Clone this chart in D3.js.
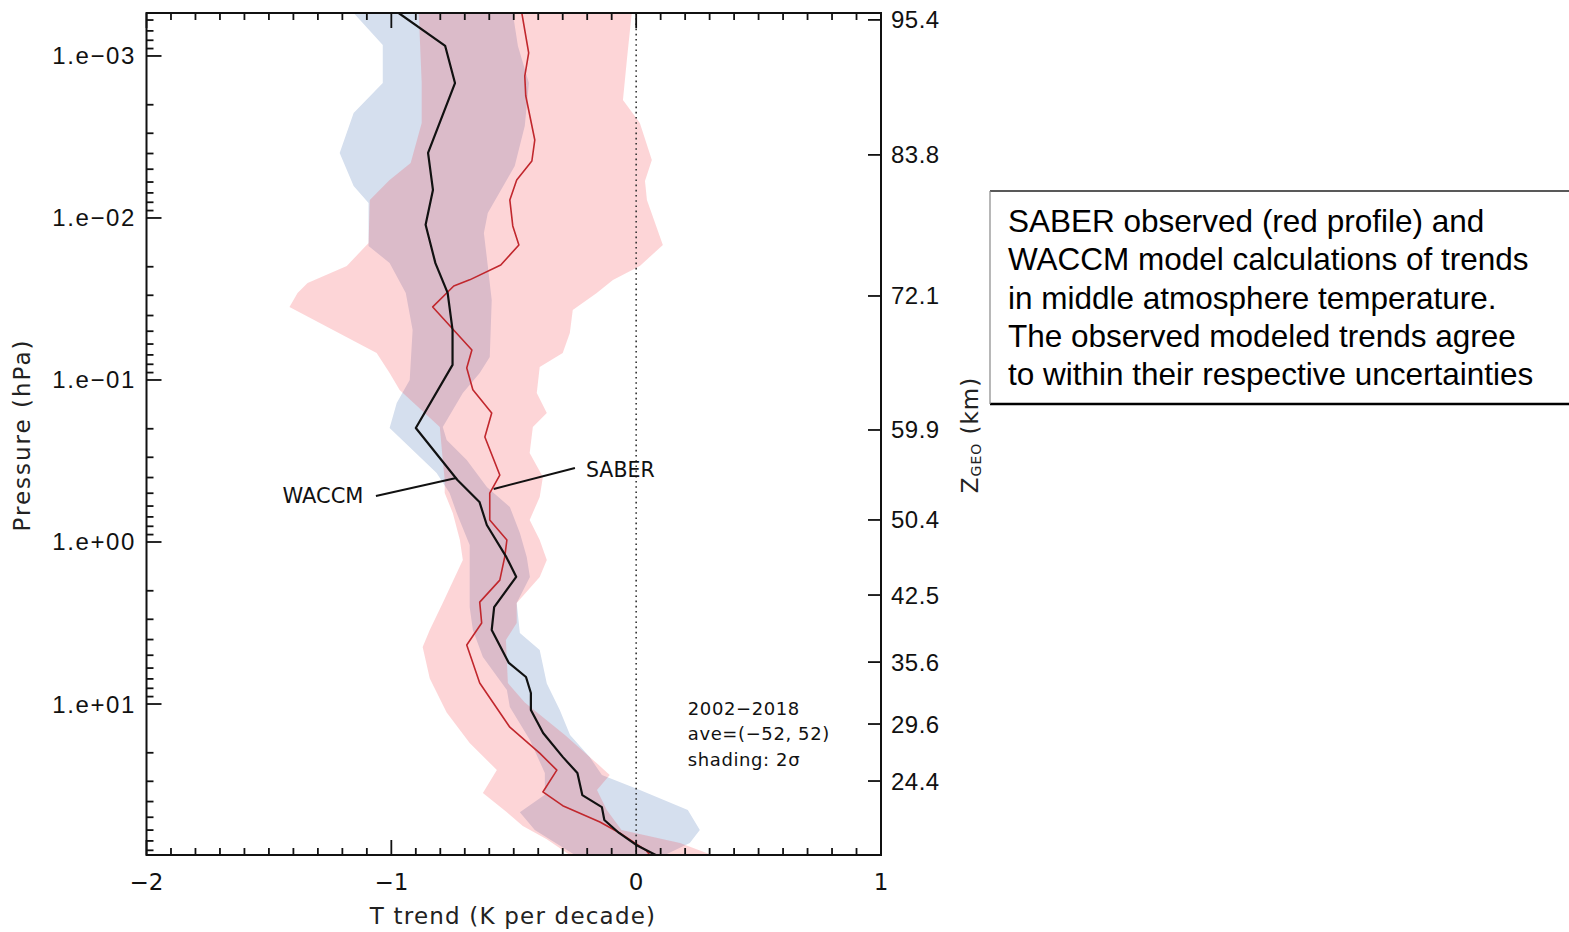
<!DOCTYPE html>
<html><head><meta charset="utf-8">
<script src="https://cdn.jsdelivr.net/npm/d3@7"></script>
<style>body{margin:0;background:#fff;} svg{display:block;}</style>
</head><body>
<svg id="chart" width="1569" height="932"></svg>
<script>
// ---------------- DATA ----------------
// Axis extents (hPa) and x range (K per decade)
const pTop = 5.43e-4, pBottom = 85.5;
const tDomain = [-2, 1];
const xTickMajor = [-2, -1, 0, 1];
const xTickLabels = ["\u22122", "\u22121", "0", "1"];
const pDecades = [1e-3, 1e-2, 1e-1, 1e0, 1e1];
const pDecadeLabels = ["1.e\u221203", "1.e\u221202", "1.e\u221201", "1.e+00", "1.e+01"];
// right axis: geometric altitude labels and their pressure levels
const zLabels = ["95.4", "83.8", "72.1", "59.9", "50.4", "42.5", "35.6", "29.6", "24.4"];
const zPressures = [5.99e-4, 4.08e-3, 0.0303, 0.2035, 0.731, 2.125, 5.51, 13.29, 29.88];

// WACCM mean trend profile
const waccmP = [5.43e-4, 8.67e-4, 1.47e-3, 3.97e-3, 6.71e-3, 0.0110, 0.0190, 0.0290, 0.0491, 0.0807, 0.198, 0.414, 0.566, 0.785, 1.24, 1.64, 2.52, 3.49, 5.58, 6.81, 8.55, 10.9, 15.1, 21.2, 26.7, 36.5, 43.3, 52.0, 62.5, 74.1, 85.5];
const waccmT = [-0.97, -0.78, -0.74, -0.85, -0.83, -0.86, -0.82, -0.77, -0.75, -0.75, -0.90, -0.73, -0.64, -0.61, -0.53, -0.49, -0.58, -0.59, -0.52, -0.45, -0.43, -0.43, -0.38, -0.30, -0.24, -0.22, -0.14, -0.13, -0.07, 0.00, 0.08];

// SABER mean trend profile
const saberP = [5.43e-4, 9.58e-4, 1.33e-3, 1.76e-3, 3.30e-3, 4.45e-3, 5.82e-3, 7.74e-3, 0.0112, 0.0147, 0.0195, 0.0241, 0.0263, 0.0354, 0.0653, 0.0843, 0.115, 0.160, 0.225, 0.386, 0.499, 0.731, 0.972, 1.24, 1.72, 2.35, 3.16, 4.32, 7.42, 13.9, 20.1, 25.6, 34.9, 42.4, 53.5, 62.5, 80.0, 85.5];
const saberT = [-0.467, -0.439, -0.455, -0.451, -0.414, -0.426, -0.488, -0.516, -0.504, -0.479, -0.553, -0.680, -0.745, -0.831, -0.671, -0.692, -0.667, -0.590, -0.618, -0.557, -0.598, -0.598, -0.528, -0.537, -0.557, -0.639, -0.631, -0.692, -0.639, -0.516, -0.394, -0.324, -0.381, -0.300, -0.148, -0.067, 0.040, 0.056];

// WACCM 2-sigma band edges
const waccmLoP = [5.43e-4, 8.55e-4, 1.468e-3, 2.248e-3, 3.97e-3, 6.34e-3, 8.08e-3, 0.01489, 0.01896, 0.02904, 0.04913, 0.1000, 0.1387, 0.1978, 0.2704, 0.3750, 0.4983, 0.6622, 1.043, 2.518, 3.493, 5.128, 8.197, 10.43, 16.68, 26.67, 36.3, 46.6, 59.95, 85.5];
const waccmLoT = [-1.154, -1.035, -1.035, -1.154, -1.211, -1.154, -1.093, -1.093, -1.007, -0.941, -0.913, -0.925, -0.978, -1.007, -0.913, -0.815, -0.762, -0.733, -0.680, -0.680, -0.667, -0.626, -0.528, -0.516, -0.434, -0.373, -0.373, -0.475, -0.414, -0.250];
const waccmHiP = [5.43e-4, 8.68e-4, 1.468e-3, 2.704e-3, 4.775e-3, 9.31e-3, 0.01238, 0.01978, 0.03208, 0.07211, 0.09054, 0.1203, 0.1950, 0.2346, 0.3118, 0.4575, 0.6081, 0.8800, 1.238, 1.644, 2.379, 3.646, 4.642, 7.46, 10.89, 15.54, 21.25, 27.44, 33.96, 45.11, 59.95, 72.11, 85.5];
const waccmHiT = [-0.504, -0.483, -0.438, -0.455, -0.496, -0.606, -0.622, -0.606, -0.590, -0.598, -0.639, -0.708, -0.790, -0.774, -0.692, -0.610, -0.516, -0.475, -0.447, -0.434, -0.488, -0.475, -0.394, -0.365, -0.312, -0.270, -0.190, -0.140, 0.015, 0.211, 0.260, 0.219, 0.117];

// SABER 2-sigma band edges
const saberLoP = [5.43e-4, 1.468e-3, 2.593e-3, 4.575e-3, 5.826e-3, 7.743e-3, 0.01427, 0.01978, 0.02518, 0.02904, 0.03543, 0.06813, 0.09054, 0.1153, 0.1950, 0.3118, 0.4144, 0.4983, 0.6622, 0.9720, 1.292, 2.379, 3.493, 4.448, 6.95, 11.3, 17.4, 25.55, 35.43, 46.6, 56.6, 68.3, 85.5];
const saberLoT = [-0.888, -0.876, -0.876, -0.921, -1.007, -1.088, -1.093, -1.182, -1.342, -1.383, -1.416, -1.060, -1.007, -0.966, -0.802, -0.790, -0.782, -0.782, -0.749, -0.720, -0.708, -0.790, -0.843, -0.872, -0.843, -0.774, -0.680, -0.569, -0.626, -0.528, -0.463, -0.365, -0.271];
const saberHiP = [5.43e-4, 1.058e-3, 1.869e-3, 2.593e-3, 4.385e-3, 5.909e-3, 7.743e-3, 0.01468, 0.01978, 0.02413, 0.02904, 0.03697, 0.05128, 0.06813, 0.08316, 0.1203, 0.1598, 0.1950, 0.2822, 0.3971, 0.5275, 0.7314, 0.9720, 1.292, 1.644, 2.379, 3.162, 4.026, 7.42, 9.79, 15.54, 22.6, 27.4, 33.96, 45.11, 59.95, 72.11, 85.5];
const saberHiT = [-0.018, -0.038, -0.054, 0.015, 0.064, 0.036, 0.044, 0.109, 0.015, -0.095, -0.161, -0.259, -0.271, -0.300, -0.394, -0.406, -0.365, -0.422, -0.435, -0.381, -0.394, -0.435, -0.394, -0.365, -0.394, -0.488, -0.488, -0.532, -0.524, -0.455, -0.291, -0.169, -0.108, -0.160, -0.120, -0.060, 0.179, 0.309];

// annotations (data coordinates: T, p)
const waccmLabel = {text: "WACCM", t: -1.445, p: 0.52};
const waccmLeader = [{t: -1.063, p: 0.52}, {t: -0.735, p: 0.403}];
const saberLabel = {text: "SABER", t: -0.205, p: 0.36};
const saberLeader = [{t: -0.25, p: 0.349}, {t: -0.582, p: 0.471}];
const infoLines = ["2002\u22122018", "ave=(\u221252, 52)", "shading: 2\u03c3"];
const infoPos = {t: 0.211, p: [10.6, 15.1, 21.9]};
const boxLines = [
  "SABER observed (red profile) and",
  "WACCM model calculations of trends",
  "in middle atmosphere temperature.",
  "The observed modeled trends agree",
  "to within their respective uncertainties"
];

// ---------------- DRAW ----------------
const svg = d3.select("#chart");
const plot = {left: 146.5, right: 881, top: 13, bottom: 855};
const x = d3.scaleLinear().domain(tDomain).range([plot.left, plot.right]);
const y = d3.scaleLog().domain([pTop, pBottom]).range([plot.top, plot.bottom]);

svg.append("rect").attr("width", 1569).attr("height", 932).attr("fill", "#fff");

svg.append("defs").append("clipPath").attr("id", "clip")
  .append("rect").attr("x", plot.left).attr("y", plot.top)
  .attr("width", plot.right - plot.left).attr("height", plot.bottom - plot.top);

const g = svg.append("g").attr("clip-path", "url(#clip)");
const zip = (P, T) => P.map((p, i) => ({p, t: T[i]}));
const line = d3.line().x(d => x(d.t)).y(d => y(d.p));

function band(loP, loT, hiP, hiT) {
  const pts = zip(loP, loT).concat(zip(hiP, hiT).reverse());
  return line(pts) + "Z";
}

g.append("path").attr("d", band(waccmLoP, waccmLoT, waccmHiP, waccmHiT))
  .attr("fill", "#d5dfee");
g.append("path").attr("d", band(saberLoP, saberLoT, saberHiP, saberHiT))
  .attr("fill", "rgb(245,45,55)").attr("fill-opacity", 0.2);

// zero line
g.append("line").attr("x1", x(0)).attr("x2", x(0))
  .attr("y1", plot.top).attr("y2", plot.bottom)
  .attr("stroke", "#333").attr("stroke-width", 1.6).attr("stroke-dasharray", "1.6,3.6");

g.append("path").attr("d", line(zip(saberP, saberT)))
  .attr("fill", "none").attr("stroke", "#c1272d").attr("stroke-width", 1.6).attr("stroke-linejoin", "round");
g.append("path").attr("d", line(zip(waccmP, waccmT)))
  .attr("fill", "none").attr("stroke", "#111").attr("stroke-width", 2.2).attr("stroke-linejoin", "round");

// frame
svg.append("rect").attr("x", plot.left).attr("y", plot.top)
  .attr("width", plot.right - plot.left).attr("height", plot.bottom - plot.top)
  .attr("fill", "none").attr("stroke", "#111").attr("stroke-width", 2);

// x ticks (top and bottom)
const axG = svg.append("g").attr("stroke", "#111").attr("stroke-width", 1.8);
const xMinor = d3.range(-20, 11).map(v => v / 10);
xMinor.forEach(v => {
  const major = Math.abs(v - Math.round(v)) < 1e-9;
  const len = major ? 15 : 7;
  axG.append("line").attr("x1", x(v)).attr("x2", x(v)).attr("y1", plot.top).attr("y2", plot.top + len);
  axG.append("line").attr("x1", x(v)).attr("x2", x(v)).attr("y1", plot.bottom).attr("y2", plot.bottom - len);
});
// y ticks left (log)
pDecades.concat([1e-4, 100]).forEach(d => {
  for (let m = 1; m <= 9; m++) {
    const p = d * m;
    if (p < pTop || p > pBottom) continue;
    const len = m === 1 ? 15 : 7;
    axG.append("line").attr("x1", plot.left).attr("x2", plot.left + len).attr("y1", y(p)).attr("y2", y(p));
  }
});
// right axis ticks
zPressures.forEach(p => {
  axG.append("line").attr("x1", plot.right).attr("x2", plot.right - 13).attr("y1", y(p)).attr("y2", y(p));
});

// tick labels
const tl = svg.append("g").attr("fill", "#111");
xTickMajor.forEach((v, i) => {
  tl.append("text").attr("x", x(v)).attr("y", 882).attr("text-anchor", "middle")
    .attr("dominant-baseline", "central").attr("font-family", "DejaVu Sans").attr("font-size", 23)
    .text(xTickLabels[i]);
});
pDecades.forEach((p, i) => {
  tl.append("text").attr("x", 136).attr("y", y(p)).attr("text-anchor", "end")
    .attr("dominant-baseline", "central").attr("font-family", "Liberation Sans").attr("font-size", 24)
    .attr("letter-spacing", 1.6).text(pDecadeLabels[i]);
});
zPressures.forEach((p, i) => {
  tl.append("text").attr("x", 891).attr("y", y(p)).attr("text-anchor", "start")
    .attr("dominant-baseline", "central").attr("font-family", "Liberation Sans").attr("font-size", 24)
    .attr("letter-spacing", 0.5).text(zLabels[i]);
});

// axis titles
tl.append("text").attr("x", 513).attr("y", 916).attr("text-anchor", "middle")
  .attr("dominant-baseline", "central").attr("font-family", "DejaVu Sans").attr("font-size", 23)
  .attr("letter-spacing", 1.2).attr("fill", "#222").text("T trend (K per decade)");
tl.append("text").attr("transform", "translate(22,435) rotate(-90)").attr("text-anchor", "middle")
  .attr("dominant-baseline", "central").attr("font-family", "DejaVu Sans").attr("font-size", 23)
  .attr("letter-spacing", 2).attr("fill", "#222").text("Pressure (hPa)");
const zt = tl.append("text").attr("transform", "translate(970,435) rotate(-90)").attr("text-anchor", "middle")
  .attr("dominant-baseline", "central").attr("font-family", "DejaVu Sans").attr("font-size", 23)
  .attr("letter-spacing", 1).attr("fill", "#222");
zt.append("tspan").text("Z");
zt.append("tspan").attr("font-size", 14).attr("dy", 6).text("GEO");
zt.append("tspan").attr("dy", -6).text(" (km)");

// annotations
const an = svg.append("g");
an.append("text").attr("x", x(waccmLabel.t)).attr("y", y(waccmLabel.p)).attr("dominant-baseline", "central")
  .attr("font-family", "DejaVu Sans").attr("font-size", 21).attr("fill", "#111").text(waccmLabel.text);
an.append("text").attr("x", x(saberLabel.t)).attr("y", y(saberLabel.p)).attr("dominant-baseline", "central")
  .attr("font-family", "DejaVu Sans").attr("font-size", 20.5).attr("fill", "#111").text(saberLabel.text);
an.append("path").attr("d", line(waccmLeader)).attr("stroke", "#111").attr("stroke-width", 2).attr("fill", "none");
an.append("path").attr("d", line(saberLeader)).attr("stroke", "#111").attr("stroke-width", 2).attr("fill", "none");
infoLines.forEach((s, i) => {
  an.append("text").attr("x", x(infoPos.t)).attr("y", y(infoPos.p[i])).attr("dominant-baseline", "central")
    .attr("font-family", "DejaVu Sans").attr("font-size", 18).attr("letter-spacing", 0.6)
    .attr("fill", "#111").text(s);
});

// text box
const bx = svg.append("g");
bx.append("rect").attr("x", 990).attr("y", 191).attr("width", 600).attr("height", 213).attr("fill", "#fff");
bx.append("line").attr("x1", 990).attr("x2", 1569).attr("y1", 191).attr("y2", 191).attr("stroke", "#222").attr("stroke-width", 1.5);
bx.append("line").attr("x1", 990).attr("x2", 1569).attr("y1", 404).attr("y2", 404).attr("stroke", "#000").attr("stroke-width", 2.5);
bx.append("line").attr("x1", 990).attr("x2", 990).attr("y1", 191).attr("y2", 404).attr("stroke", "#888").attr("stroke-width", 1.2);
boxLines.forEach((s, i) => {
  bx.append("text").attr("x", 1008).attr("y", 221 + i * 38.3).attr("dominant-baseline", "central")
    .attr("font-family", "Liberation Sans, Arial").attr("font-size", 31.5).attr("fill", "#000").text(s);
});
</script>
</body></html>
